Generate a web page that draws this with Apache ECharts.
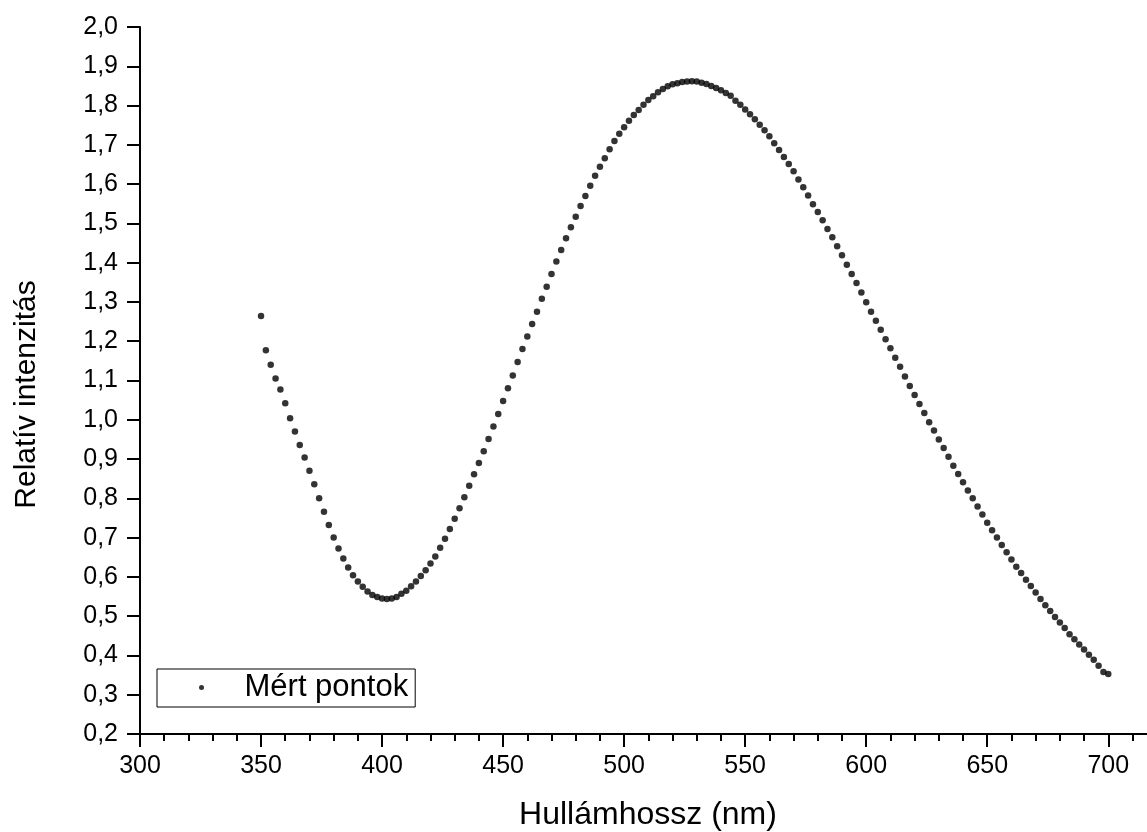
<!DOCTYPE html>
<html>
<head>
<meta charset="utf-8">
<title>Relatív intenzitás</title>
<script src="https://cdn.jsdelivr.net/npm/echarts@6/dist/echarts.min.js"></script>
<style>
  html, body { margin: 0; padding: 0; background: #fff; }
  #chart { width: 1147px; height: 832px; }
</style>
</head>
<body>
<div id="chart"></div>
<script>
// Measured wavelengths (nm)
const wavelengths = [
  350, 352, 354, 356, 358, 360, 362, 364, 366, 368,
  370, 372, 374, 376, 378, 380, 382, 384, 386, 388,
  390, 392, 394, 396, 398, 400, 402, 404, 406, 408,
  410, 412, 414, 416, 418, 420, 422, 424, 426, 428,
  430, 432, 434, 436, 438, 440, 442, 444, 446, 448,
  450, 452, 454, 456, 458, 460, 462, 464, 466, 468,
  470, 472, 474, 476, 478, 480, 482, 484, 486, 488,
  490, 492, 494, 496, 498, 500, 502, 504, 506, 508,
  510, 512, 514, 516, 518, 520, 522, 524, 526, 528,
  530, 532, 534, 536, 538, 540, 542, 544, 546, 548,
  550, 552, 554, 556, 558, 560, 562, 564, 566, 568,
  570, 572, 574, 576, 578, 580, 582, 584, 586, 588,
  590, 592, 594, 596, 598, 600, 602, 604, 606, 608,
  610, 612, 614, 616, 618, 620, 622, 624, 626, 628,
  630, 632, 634, 636, 638, 640, 642, 644, 646, 648,
  650, 652, 654, 656, 658, 660, 662, 664, 666, 668,
  670, 672, 674, 676, 678, 680, 682, 684, 686, 688,
  690, 692, 694, 696, 698, 700
];

// Relative intensity at each wavelength
const intensities = [
  1.264, 1.177, 1.140, 1.105, 1.077, 1.042, 1.004, 0.970, 0.936, 0.904,
  0.870, 0.836, 0.800, 0.766, 0.732, 0.700, 0.672, 0.647, 0.624, 0.604,
  0.588, 0.575, 0.563, 0.554, 0.549, 0.545, 0.544, 0.545, 0.549, 0.557,
  0.565, 0.576, 0.588, 0.602, 0.617, 0.634, 0.652, 0.674, 0.697, 0.722,
  0.748, 0.775, 0.803, 0.832, 0.861, 0.890, 0.920, 0.951, 0.983, 1.015,
  1.048, 1.080, 1.113, 1.147, 1.180, 1.212, 1.244, 1.275, 1.308, 1.339,
  1.371, 1.403, 1.432, 1.462, 1.490, 1.517, 1.544, 1.570, 1.596, 1.621,
  1.644, 1.666, 1.689, 1.710, 1.728, 1.745, 1.761, 1.776, 1.789, 1.802,
  1.814, 1.824, 1.834, 1.842, 1.849, 1.854, 1.857, 1.860, 1.861, 1.862,
  1.861, 1.858, 1.855, 1.850, 1.845, 1.839, 1.832, 1.825, 1.812, 1.802,
  1.790, 1.778, 1.765, 1.751, 1.737, 1.722, 1.704, 1.687, 1.669, 1.651,
  1.633, 1.612, 1.592, 1.571, 1.549, 1.529, 1.508, 1.486, 1.465, 1.442,
  1.419, 1.395, 1.371, 1.348, 1.324, 1.299, 1.275, 1.252, 1.229, 1.205,
  1.182, 1.158, 1.135, 1.110, 1.086, 1.063, 1.040, 1.017, 0.994, 0.973,
  0.950, 0.928, 0.906, 0.883, 0.862, 0.841, 0.820, 0.800, 0.779, 0.759,
  0.738, 0.719, 0.700, 0.681, 0.663, 0.644, 0.626, 0.610, 0.593, 0.577,
  0.560, 0.544, 0.528, 0.513, 0.498, 0.484, 0.470, 0.454, 0.441, 0.428,
  0.415, 0.402, 0.389, 0.374, 0.358, 0.353
];

// Axis tick positions
const xMajorTicks = [300, 350, 400, 450, 500, 550, 600, 650, 700];
const xMinorTicks = [
  310, 320, 330, 340, 360, 370, 380, 390, 410, 420, 430, 440,
  460, 470, 480, 490, 510, 520, 530, 540, 560, 570, 580, 590,
  610, 620, 630, 640, 660, 670, 680, 690, 710
];
const yTicks = [0.2, 0.3, 0.4, 0.5, 0.6, 0.7, 0.8, 0.9, 1.0, 1.1,
                1.2, 1.3, 1.4, 1.5, 1.6, 1.7, 1.8, 1.9, 2.0];

const seriesName = 'Mért pontok';
const xTitle = 'Hullámhossz (nm)';
const yTitle = 'Relatív intenzitás';

const FONT = "'Liberation Sans', Arial, sans-serif";
const points = wavelengths.map((w, i) => [w, intensities[i]]);
const fmtComma = v => Number(v).toFixed(1).replace('.', ',');

const chart = echarts.init(document.getElementById('chart'), null, { renderer: 'canvas' });

chart.setOption({
  animation: false,
  backgroundColor: '#ffffff',
  textStyle: { fontFamily: FONT, color: '#000' },
  grid: {
    left: 140, right: 0, top: 27, bottom: 98,
    containLabel: false,
    outerBoundsMode: 'none'
  },
  legend: {
    data: [{ name: seriesName, icon: 'circle' }],
    left: 157,
    top: 669,
    orient: 'horizontal',
    itemWidth: 76,
    itemHeight: 5,
    itemGap: 0,
    padding: [3, 7, 4, 42],
    borderColor: '#000',
    borderWidth: 1,
    borderRadius: 0,
    selectedMode: false,
    textStyle: { fontFamily: FONT, fontSize: 31, color: '#000', padding: [0, 0, 0, 0] }
  },
  xAxis: [
    {
      type: 'value',
      min: 300,
      max: 716,
      interval: 50,
      name: xTitle,
      nameLocation: 'middle',
      nameGap: 65,
      nameTextStyle: { fontFamily: FONT, fontSize: 32, color: '#000', padding: [0, 0, 0, 9] },
      axisLine: { show: true, onZero: false, lineStyle: { color: '#000', width: 2 } },
      axisTick: {
        show: true, inside: false, length: 13,
        customValues: xMajorTicks,
        lineStyle: { color: '#000', width: 2 }
      },
      axisLabel: {
        show: true, margin: 20,
        customValues: xMajorTicks,
        fontFamily: FONT, fontSize: 25, color: '#000'
      },
      splitLine: { show: false }
    },
    {
      // minor ticks only
      type: 'value',
      min: 300,
      max: 716,
      position: 'bottom',
      axisLine: { show: false },
      axisTick: {
        show: true, inside: false, length: 7,
        customValues: xMinorTicks,
        lineStyle: { color: '#000', width: 2 }
      },
      axisLabel: { show: false },
      splitLine: { show: false }
    }
  ],
  yAxis: {
    type: 'value',
    min: 0.2,
    max: 2.0,
    interval: 0.1,
    name: yTitle,
    nameLocation: 'middle',
    nameGap: 98,
    nameRotate: 90,
    nameTextStyle: { fontFamily: FONT, fontSize: 30, color: '#000', padding: [0, 28, 0, 0] },
    axisLine: { show: true, onZero: false, lineStyle: { color: '#000', width: 2 } },
    axisTick: {
      show: true, inside: false, length: 13,
      customValues: yTicks,
      lineStyle: { color: '#000', width: 2 }
    },
    axisLabel: {
      show: true, margin: 22,
      customValues: yTicks,
      formatter: fmtComma,
      fontFamily: FONT, fontSize: 25, color: '#000'
    },
    splitLine: { show: false }
  },
  series: [
    {
      name: seriesName,
      type: 'scatter',
      xAxisIndex: 0,
      data: points,
      symbol: 'circle',
      symbolSize: 6.5,
      itemStyle: { color: '#000' },
      emphasis: { disabled: true }
    }
  ]
});
</script>
</body>
</html>
